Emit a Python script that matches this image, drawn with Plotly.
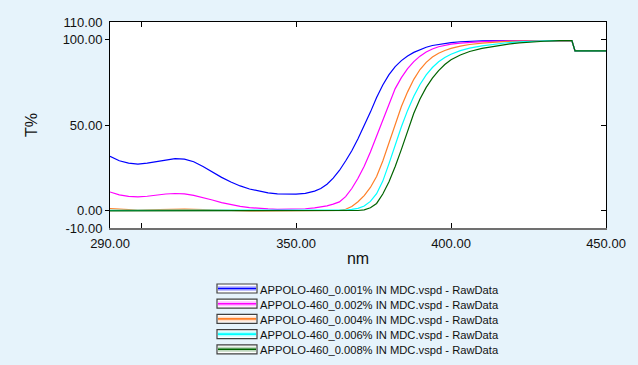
import plotly.graph_objects as go

# ---------------- data ----------------
WAVELENGTH = [290, 293, 296, 299, 302, 305, 308, 311, 314, 317, 320, 323, 326, 329, 332,
              335, 338, 341, 344, 347, 350, 353, 356, 358, 360, 362, 364, 366, 368, 370,
              372, 374, 376, 378, 380, 382, 384, 386, 388, 390, 392, 394, 396, 398, 400,
              403, 406, 410, 414, 418, 422, 426, 430, 435, 439, 440, 445, 450]

T_0001 = [31.8, 29.2, 27.8, 27.2, 27.8, 28.8, 29.8, 30.4, 30.1, 28.6, 25.8, 22.6, 19.5, 16.8, 14.5,
          12.7, 11.4, 10.5, 9.9, 9.6, 9.7, 10.2, 11.5, 13.0, 15.5, 19.0, 23.5, 29.0, 35.0, 42.0,
          49.5, 57.5, 66.0, 73.3, 79.3, 84.0, 87.5, 90.2, 92.3, 94.0, 95.3, 96.3, 97.0, 97.6, 98.0,
          98.5, 98.8, 99.0, 99.1, 99.2, 99.2, 99.2, 99.2, 99.2, 99.2, 93.2, 93.2, 93.2]

T_0002 = [11.0, 9.3, 8.4, 8.1, 8.5, 9.2, 9.8, 10.1, 9.9, 9.0, 7.8, 6.3, 4.8, 3.6, 2.6,
          1.9, 1.4, 1.1, 0.9, 0.9, 1.0, 1.2, 1.7, 2.2, 2.9, 3.9, 5.2, 8.3, 13.0, 19.0,
          26.0, 34.3, 43.5, 53.5, 63.0, 71.2, 77.6, 82.8, 86.9, 90.1, 92.5, 94.3, 95.6, 96.5, 97.1,
          97.7, 98.2, 98.6, 98.9, 99.0, 99.1, 99.2, 99.2, 99.2, 99.2, 93.2, 93.2, 93.2]

T_0004 = [1.3, 0.9, 0.6, 0.5, 0.6, 0.8, 0.9, 1.0, 1.0, 0.9, 0.7, 0.5, 0.3, 0.2, 0.1,
          0.0, 0.0, 0.0, 0.0, 0.0, 0.0, 0.0, 0.0, 0.0, 0.0, 0.1, 0.3, 0.9, 2.5, 5.3,
          8.9, 13.6, 20.0, 29.0, 39.8, 50.8, 60.8, 69.3, 76.6, 82.3, 86.5, 89.6, 91.8, 93.4, 94.6,
          95.9, 96.9, 97.7, 98.3, 98.7, 98.9, 99.0, 99.1, 99.2, 99.2, 93.2, 93.2, 93.2]

T_0006 = [0.3, 0.3, 0.2, 0.2, 0.2, 0.2, 0.3, 0.3, 0.3, 0.3, 0.2, 0.2, 0.2, 0.2, 0.2,
          0.2, 0.2, 0.2, 0.2, 0.2, 0.2, 0.2, 0.2, 0.2, 0.2, 0.2, 0.3, 0.5, 0.8, 1.4,
          2.8, 5.5, 10.0, 17.3, 27.5, 38.5, 49.0, 58.5, 66.7, 73.6, 79.2, 83.5, 86.8, 89.3, 91.2,
          93.3, 94.8, 96.1, 97.2, 97.9, 98.4, 98.8, 99.0, 99.2, 99.2, 93.2, 93.2, 93.2]

T_0008 = [0.0, 0.0, 0.0, 0.0, 0.0, 0.0, 0.0, 0.0, 0.0, 0.0, 0.0, 0.0, 0.0, 0.0, 0.0,
          0.0, 0.0, 0.0, 0.0, 0.0, 0.0, 0.0, 0.0, 0.0, 0.0, 0.0, 0.0, 0.0, 0.05, 0.2,
          0.6, 1.8, 4.3, 9.8, 17.0, 25.8, 35.8, 46.5, 56.8, 65.2, 71.9, 77.3, 81.7, 85.2, 88.0,
          90.8, 92.8, 94.6, 95.9, 97.0, 97.8, 98.4, 98.8, 99.1, 99.2, 93.2, 93.2, 93.2]

SERIES_NAMES = [
    "APPOLO-460_0.001% IN MDC.vspd - RawData",
    "APPOLO-460_0.002% IN MDC.vspd - RawData",
    "APPOLO-460_0.004% IN MDC.vspd - RawData",
    "APPOLO-460_0.006% IN MDC.vspd - RawData",
    "APPOLO-460_0.008% IN MDC.vspd - RawData",
]
SERIES_VALUES = [T_0001, T_0002, T_0004, T_0006, T_0008]
SERIES_COLORS = ["#0000FF", "#FF00FF", "#FF7F27", "#00FFFF", "#006400"]
SERIES_PALE = ["rgba(0,0,255,0.25)", "rgba(255,0,255,0.25)", "rgba(255,127,39,0.25)",
               "rgba(0,255,255,0.3)", "rgba(0,100,0,0.25)"]

X_LABEL_VALUES = [290, 350, 400, 450]
X_TICK_MARKS = [300, 350, 400]
Y_LABEL_VALUES = [-10, 0, 50, 100, 110]
Y_TICK_MARKS = [0, 50, 100]
X_RANGE = [290, 450]
Y_RANGE = [-10, 110]

# ---------------- layout geometry ----------------
W, H = 638, 365
ML, MR, MT, MB = 110, 32, 22, 137
PW, PH = W - ML - MR, H - MT - MB

def px_x(p):
    return (p - ML) / PW

def px_y(p):
    return (H - MB - p) / PH

FONT = "Arial, 'Liberation Sans', sans-serif"

fig = go.Figure()
for name, vals, col in zip(SERIES_NAMES, SERIES_VALUES, SERIES_COLORS):
    fig.add_trace(go.Scatter(x=WAVELENGTH, y=vals, name=name, mode="lines",
                             line=dict(color=col, width=1.2),
                             hoverinfo="x+y+name", showlegend=False))

# empty helper traces so the overlay axes are always rendered
for xa, ya in [("x2", "y"), ("x3", "y"), ("x", "y2"), ("x", "y3")]:
    fig.add_trace(go.Scatter(x=[None], y=[None], xaxis=xa, yaxis=ya,
                             showlegend=False, hoverinfo="skip"))

# legend drawn as boxed symbols + text (the instrument software style)
LEG_X0, LEG_W, LEG_H = 217, 40, 9
LEG_Y0, LEG_STEP = 288.5, 15.2
shapes, annotations = [], []
for i, (name, col, pale) in enumerate(zip(SERIES_NAMES, SERIES_COLORS, SERIES_PALE)):
    cy = LEG_Y0 + i * LEG_STEP
    shapes.append(dict(type="rect", xref="paper", yref="paper",
                       x0=px_x(LEG_X0), x1=px_x(LEG_X0 + LEG_W),
                       y0=px_y(cy - LEG_H / 2), y1=px_y(cy + LEG_H / 2),
                       line=dict(color="#404040", width=1.2), fillcolor="#FFFFFF"))
    shapes.append(dict(type="line", xref="paper", yref="paper",
                       x0=px_x(LEG_X0 + 1), x1=px_x(LEG_X0 + LEG_W - 1),
                       y0=px_y(cy), y1=px_y(cy),
                       line=dict(color=pale, width=5)))
    shapes.append(dict(type="line", xref="paper", yref="paper",
                       x0=px_x(LEG_X0 + 1), x1=px_x(LEG_X0 + LEG_W - 1),
                       y0=px_y(cy), y1=px_y(cy),
                       line=dict(color=col, width=1.6)))
    annotations.append(dict(text=name, xref="paper", yref="paper",
                            x=px_x(LEG_X0 + LEG_W + 0.5), y=px_y(cy + 1),
                            xanchor="left", yanchor="middle", showarrow=False,
                            font=dict(size=11.2, color="#111111", family=FONT)))

common = dict(showgrid=False, zeroline=False)

fig.update_layout(
    width=W, height=H,
    paper_bgcolor="#E6F3FB", plot_bgcolor="#FFFFFF",
    margin=dict(l=ML, r=MR, t=MT, b=MB, autoexpand=False),
    font=dict(family=FONT, size=13, color="#111111"),
    showlegend=False,
    shapes=shapes, annotations=annotations,
    xaxis=dict(range=X_RANGE, showline=True, linecolor="#707070", linewidth=2,
               ticks="inside", tickvals=X_TICK_MARKS, ticklen=5, tickcolor="#000000",
               tickwidth=1, showticklabels=False, **common),
    xaxis2=dict(range=X_RANGE, overlaying="x", side="top", anchor="y",
                showline=True, linecolor="#000000", linewidth=1,
                ticks="inside", tickvals=X_TICK_MARKS, ticklen=5, tickcolor="#000000",
                showticklabels=False, **common),
    xaxis3=dict(range=X_RANGE, overlaying="x", side="bottom", anchor="y",
                showline=False, ticks="outside", ticklen=3, tickcolor="rgba(0,0,0,0)",
                tickvals=X_LABEL_VALUES,
                ticktext=[f"{v:.2f}" for v in X_LABEL_VALUES],
                title=dict(text="nm", standoff=3), **common),
    yaxis=dict(range=Y_RANGE, showline=True, linecolor="#000000", linewidth=1,
               ticks="outside", ticklen=4, tickcolor="rgba(0,0,0,0)",
               tickvals=Y_LABEL_VALUES,
               ticktext=[f"{v:.2f}" for v in Y_LABEL_VALUES],
               title=dict(text="T%", standoff=21), **common),
    yaxis2=dict(range=Y_RANGE, overlaying="y", side="left", anchor="x",
                showline=False, ticks="outside", ticklen=4, tickcolor="#000000",
                tickvals=Y_TICK_MARKS, showticklabels=False, **common),
    yaxis3=dict(range=Y_RANGE, overlaying="y", side="right", anchor="x",
                showline=True, linecolor="#000000", linewidth=1,
                ticks="inside", ticklen=5, tickcolor="#000000",
                tickvals=Y_TICK_MARKS, showticklabels=False, **common),
)

fig.write_html("out.html", config={"displayModeBar": False},
               post_script="document.body.style.margin='0';document.body.style.overflow='hidden';")
